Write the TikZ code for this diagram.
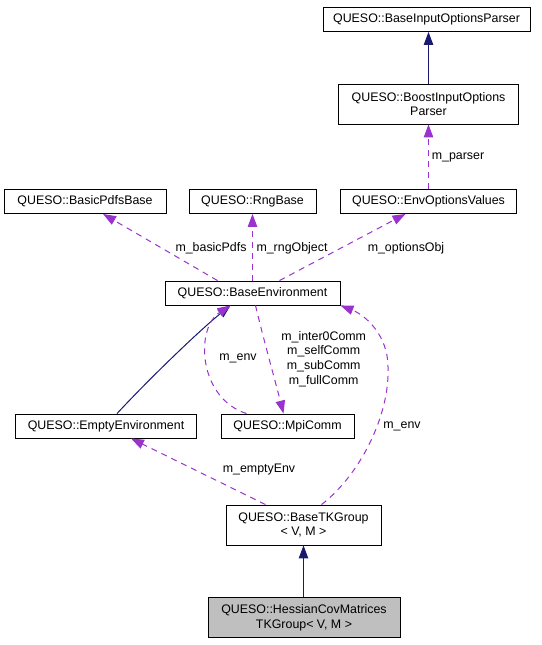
\documentclass[tikz,border=0pt]{standalone}
\usepackage{fontspec}
\setmainfont{Liberation Sans}
\usetikzlibrary{arrows.meta}
\definecolor{inhcol}{HTML}{191970}
\definecolor{usecol}{HTML}{9A32CD}
\definecolor{hessfill}{HTML}{BFBFBF}
\tikzset{
  cls/.style={draw=black, line width=0.9pt, inner sep=0pt, minimum height=24pt, align=center, font=\fontsize{12.4}{14.7}\selectfont},
  cls2/.style={cls, minimum height=40pt},
  lbl/.style={inner sep=0pt, align=center, font=\fontsize{12.4}{14.7}\selectfont},
  inh/.style={color=inhcol, line width=1pt, -{Triangle[length=13pt,width=9.5pt]}},
  use/.style={color=usecol, line width=1pt, dash pattern=on 6pt off 5pt, -{Triangle[length=13pt,width=9.5pt]}},
}
\begin{document}
\begin{tikzpicture}[x=1pt,y=-1pt]
\useasboundingbox (0,0) rectangle (541,645);
\node[cls, minimum width=207pt] (bip) at (426.5,19.5) {QUESO::BaseInputOptionsParser};
\node[cls2, minimum width=180pt] (boost) at (428.5,104) {QUESO::BoostInputOptions\\Parser};
\node[cls, minimum width=176pt] (env) at (428.5,201.5) {QUESO::EnvOptionsValues};
\node[cls, minimum width=162pt] (bpdf) at (85,201.5) {QUESO::BasicPdfsBase};
\node[cls, minimum width=127pt] (rng) at (252.5,201.5) {QUESO::RngBase};
\node[cls, minimum width=175pt] (be) at (252.5,293) {QUESO::BaseEnvironment};
\node[cls, minimum width=181pt] (empty) at (106,426) {QUESO::EmptyEnvironment};
\node[cls, minimum width=133pt] (mpi) at (287.5,426) {QUESO::MpiComm};
\node[cls2, minimum width=155pt] (btk) at (303.5,525) {QUESO::BaseTKGroup\\{}< V, M >};
\node[cls2, minimum width=192pt, fill=hessfill] (hess) at (304,617.5) {QUESO::HessianCovMatrices\\TKGroup< V, M >};

\node[lbl] (lparser) at (458,157) {m\_parser};
\node[lbl] (lpdfs) at (211,248.5) {m\_basicPdfs};
\node[lbl] (lrng) at (292,248.5) {m\_rngObject};
\node[lbl] (lopt) at (406,248.5) {m\_optionsObj};
\node[lbl] (lenvl) at (238,358) {m\_env};
\node[lbl] (lcomm) at (323.7,359) {m\_inter0Comm\\m\_selfComm\\m\_subComm\\m\_fullComm};
\node[lbl] (lenvr) at (402,426) {m\_env};
\node[lbl] (lempty) at (259,470) {m\_emptyEnv};

\draw[inh] (boost.north) -- (boost.north |- bip.south);
\draw[use] (env.north) -- (boost.south);
\draw[use] ([xshift=-35pt]be.north) -- ([xshift=18pt]bpdf.south);
\draw[use] (be.north) -- (rng.south);
\draw[use] ([xshift=27pt]be.north) -- ([xshift=-23pt]env.south);
\draw[inh] ([xshift=11pt]empty.north) .. controls (150,378) and (200,330) .. ([xshift=-22pt]be.south);
\draw[use] ([xshift=-41pt]mpi.north) .. controls (198,398) and (195,328) .. ([xshift=-22pt]be.south);
\draw[use] ([xshift=3pt]be.south) .. controls (265,345) and (275,380) .. ([xshift=-4pt]mpi.north);
\draw[use] ([xshift=18pt]btk.north) .. controls (360,475) and (390,415) .. (388,367) .. controls (388,335) and (365,315) .. (be.south east);
\draw[use] ([xshift=-38pt]btk.north) -- ([xshift=25pt]empty.south);
\draw[inh] (btk.south |- hess.north) -- (btk.south);
\end{tikzpicture}
\end{document}
